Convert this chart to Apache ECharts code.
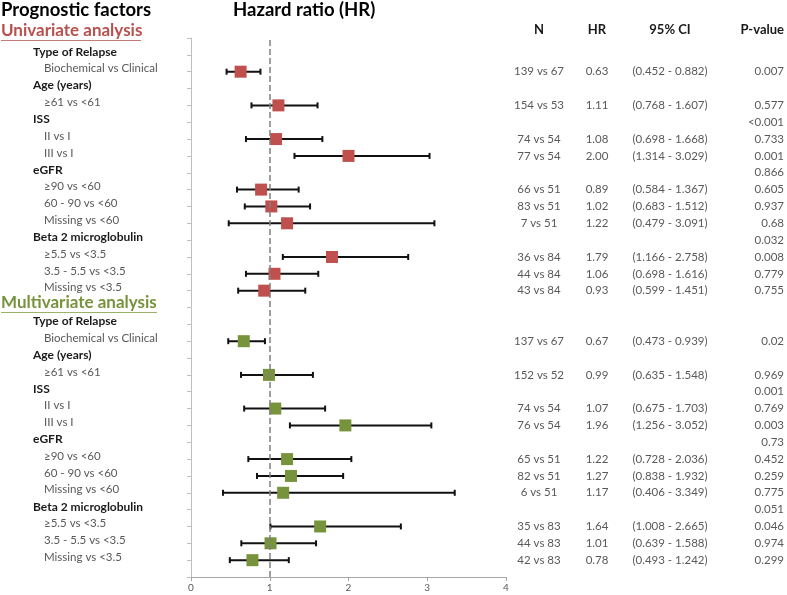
<!DOCTYPE html>
<html>
<head>
<meta charset="utf-8">
<script src="https://cdn.jsdelivr.net/npm/echarts@6/dist/echarts.min.js"></script>
<style>html,body{margin:0;padding:0;background:#fff}#c{width:787px;height:595px}</style>
</head>
<body>
<div id="c"></div>
<script>
// ---- data ----
const factorLabels = ['Type of Relapse','Biochemical vs Clinical','Age (years)','\u226561 vs <61','ISS','II vs I','III vs I','eGFR','\u226590 vs <60','60 - 90 vs <60','Missing vs <60','Beta 2 microglobulin','\u22655.5 vs <3.5','3.5 - 5.5 vs <3.5','Missing vs <3.5'];

const uniHR = [null,0.63,null,1.11,null,1.08,2.00,null,0.89,1.02,1.22,null,1.79,1.06,0.93];
const uniLo = [null,0.452,null,0.768,null,0.698,1.314,null,0.584,0.683,0.479,null,1.166,0.698,0.599];
const uniHi = [null,0.882,null,1.607,null,1.668,3.029,null,1.367,1.512,3.091,null,2.758,1.616,1.451];
const uniN  = ['','139 vs 67','','154 vs 53','','74 vs 54','77 vs 54','','66 vs 51','83 vs 51','7 vs 51','','36 vs 84','44 vs 84','43 vs 84'];
const uniP  = ['','0.007','','0.577','<0.001','0.733','0.001','0.866','0.605','0.937','0.68','0.032','0.008','0.779','0.755'];

const multiHR = [null,0.67,null,0.99,null,1.07,1.96,null,1.22,1.27,1.17,null,1.64,1.01,0.78];
const multiLo = [null,0.473,null,0.635,null,0.675,1.256,null,0.728,0.838,0.406,null,1.008,0.639,0.493];
const multiHi = [null,0.939,null,1.548,null,1.703,3.052,null,2.036,1.932,3.349,null,2.665,1.588,1.242];
const multiN  = ['','137 vs 67','','152 vs 52','','74 vs 54','76 vs 54','','65 vs 51','82 vs 51','6 vs 51','','35 vs 83','44 vs 83','42 vs 83'];
const multiP  = ['','0.02','','0.969','0.001','0.769','0.003','0.73','0.452','0.259','0.775','0.051','0.046','0.974','0.299'];

const xTicks = [0,1,2,3,4];
const columnHeaders = ['N','HR','95% CI','P-value'];

// ---- helpers ----
const FONT = 'Lato, "Open Sans", sans-serif';
const UNI_TOP = 31, MULTI_TOP = 15, MULTI_HEADER = 16, Y_MAX = 32;

function rowOf(v){
  if (v <= UNI_TOP && v > MULTI_HEADER) return {block:'uni', i: UNI_TOP - v};
  if (v <= MULTI_TOP && v >= 1) return {block:'multi', i: MULTI_TOP - v};
  return null;
}
function fieldFor(v, key){
  const r = rowOf(v); if (!r) return '';
  const src = r.block === 'uni'
    ? {hr:uniHR, lo:uniLo, hi:uniHi, n:uniN, p:uniP}
    : {hr:multiHR, lo:multiLo, hi:multiHi, n:multiN, p:multiP};
  const hr = src.hr[r.i];
  if (key === 'n') return src.n[r.i];
  if (key === 'p') return src.p[r.i];
  if (hr == null) return '';
  if (key === 'hr') return hr.toFixed(2);
  if (key === 'ci') return '(' + src.lo[r.i].toFixed(3) + ' - ' + src.hi[r.i].toFixed(3) + ')';
  return '';
}

function points(hr, top){ return hr.map((h,i)=> h==null?null:[h, top - i]).filter(Boolean); }
function bars(hr, lo, hi, top){ return hr.map((h,i)=> h==null?null:[lo[i], hi[i], top - i]).filter(Boolean); }

const baseY = {type:'value', min:0, max:Y_MAX, interval:1, splitLine:{show:false}};
function tableAxis(offset, key, name, align){
  return Object.assign({}, baseY, {
    position:'right', offset: offset,
    axisLine:{show:false}, axisTick:{show:false},
    name: name, nameLocation:'end', nameGap: 2,
    nameTextStyle:{fontFamily:FONT, fontSize:13, fontWeight:'bold', color:'#1a1a1a', align: align, verticalAlign:'bottom'},
    axisLabel:{show:true, margin:0, align: align, fontFamily:FONT, fontSize:11.5, color:'#595959', padding:[0,0,6,0],
      formatter: v => fieldFor(v, key)}
  });
}

const errorBar = () => ({
  type:'custom', z:2,
  renderItem: function(params, api){
    const y = api.value(2);
    const a = api.coord([api.value(0), y]);
    const b = api.coord([api.value(1), y]);
    const h = 3;
    const st = {stroke:'#111', lineWidth:2};
    return {type:'group', children:[
      {type:'line', shape:{x1:a[0], y1:a[1], x2:b[0], y2:b[1]}, style:st},
      {type:'line', shape:{x1:a[0], y1:a[1]-h, x2:a[0], y2:a[1]+h}, style:st},
      {type:'line', shape:{x1:b[0], y1:b[1]-h, x2:b[0], y2:b[1]+h}, style:st}
    ]};
  },
  encode:{x:[0,1], y:2}
});

const chart = echarts.init(document.getElementById('c'), null, {renderer:'canvas'});
chart.setOption({
  animation:false,
  backgroundColor:'#fff',
  grid:{left:189, right:279, top:38, bottom:18},
  xAxis:{type:'value', min:xTicks[0], max:xTicks[xTicks.length-1], interval:1,
    splitLine:{show:false},
    axisLine:{show:true, lineStyle:{color:'#a6a6a6'}},
    axisTick:{show:true, length:4, lineStyle:{color:'#a6a6a6'}},
    axisLabel:{fontFamily:FONT, fontSize:10, color:'#595959', margin:6}},
  yAxis:[
    Object.assign({}, baseY, {
      position:'left',
      axisLine:{show:true, lineStyle:{color:'#bfbfbf'}},
      axisTick:{show:true, length:4, lineStyle:{color:'#bfbfbf'}},
      axisLabel:{show:true, align:'left', margin:188, padding:[0,0,6,0],
        formatter: function(v){
          const r = rowOf(v); if (!r) return '';
          const t = factorLabels[r.i];
          return uniHR[r.i] == null ? '{h|' + t + '}' : '{s|' + t + '}';
        },
        rich:{
          h:{fontFamily:FONT, fontSize:12, fontWeight:'bold', color:'#1a1a1a', padding:[0,0,0,30]},
          s:{fontFamily:FONT, fontSize:11.5, color:'#595959', padding:[0,0,0,41]}
        }}
    }),
    tableAxis(33, 'n', columnHeaders[0], 'center'),
    tableAxis(91, 'hr', columnHeaders[1], 'center'),
    tableAxis(164, 'ci', columnHeaders[2], 'center'),
    tableAxis(278, 'p', columnHeaders[3], 'right')
  ],
  series:[
    Object.assign(errorBar(), {data: bars(uniHR, uniLo, uniHi, UNI_TOP)}),
    Object.assign(errorBar(), {data: bars(multiHR, multiLo, multiHi, MULTI_TOP)}),
    {type:'scatter', z:3, symbol:'rect', symbolSize:12, itemStyle:{color:'#c0504d', opacity:1},
     data: points(uniHR, UNI_TOP),
     markLine:{silent:true, symbol:'none', label:{show:false},
       lineStyle:{color:'#808080', type:[6,3], width:1.5},
       data:[{xAxis:1}]}},
    {type:'scatter', z:3, symbol:'rect', symbolSize:12, itemStyle:{color:'#77933c', opacity:1},
     data: points(multiHR, MULTI_TOP)}
  ],
  graphic:[
    {type:'text', left:1, top:1, style:{text:'Prognostic factors', font:'bold 18.5px ' + FONT, fill:'#000'}},
    {type:'text', left:233, top:1, style:{text:'Hazard ratio (HR)', font:'bold 18.5px ' + FONT, fill:'#000'}},
    {type:'group', left:1, top:22, children:[
      {type:'text', style:{text:'Univariate analysis', font:'bold 17px ' + FONT, fill:'#b8504e'}},
      {type:'rect', shape:{x:0, y:18, width:140, height:1}, style:{fill:'#c47a78'}}
    ]},
    {type:'group', left:1, top:294, children:[
      {type:'text', style:{text:'Multivariate analysis', font:'bold 17px ' + FONT, fill:'#77933c'}},
      {type:'rect', shape:{x:0, y:18, width:156, height:1}, style:{fill:'#9bb06a'}}
    ]}
  ]
});
</script>
</body>
</html>
